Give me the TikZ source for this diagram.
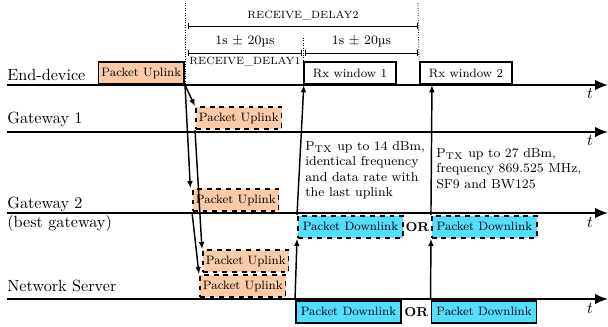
\documentclass[tikz,border=0pt]{standalone}
\usepackage{tikz}
\usetikzlibrary{arrows.meta, positioning}

\definecolor{uplinkorange}{RGB}{251,202,166}
\definecolor{downlinkcyan}{RGB}{85,221,255}
\newcommand{\pktfont}{\fontsize{7.5}{9}\selectfont}
\newcommand{\dlyfont}{\fontsize{6.5}{8}\selectfont}

\begin{document}
\begin{tikzpicture}[x=0.6173pt,y=-0.6173pt,>={Latex[length=4.5pt,width=3.5pt]},
	timeline/.style={line width=1.1pt,-{Latex[length=8pt,width=6.5pt]}},
	pkt/.style={draw,line width=1pt,font=\pktfont,inner sep=1pt,minimum height=13.6pt},
	uplink/.style={pkt,fill=uplinkorange,minimum width=53pt},
	downlink/.style={pkt,fill=downlinkcyan,minimum width=65pt},
	relayed/.style={dashed},
	rxwin/.style={pkt,fill=white,minimum width=57pt},
	lane/.style={anchor=base west,inner sep=0pt},
	delay/.style={line width=0.5pt,{Bar[width=4pt]}-{Bar[width=4pt]}},
	marker/.style={densely dotted,line width=0.5pt},
	orlabel/.style={font=\footnotesize\bfseries,inner sep=0.8pt},
	every edge/.append style={line width=0.9pt}]
	\useasboundingbox (0,0) rectangle (608,326);

	% time lines
	\draw[timeline] (7,85) -- (608,85);
	\draw[timeline] (7,132) -- (608,132);
	\draw[timeline] (7,213) -- (608,213);
	\draw[timeline] (7,299) -- (608,299);
	\node at (590,94) {$t$};
	\node at (590,141) {$t$};
	\node at (590,223) {$t$};
	\node at (590,309) {$t$};

	\node[lane] (ed) at (7,80) {End-device};
	\node[lane] (gw1) at (7,123) {Gateway 1};
	\node[lane] (gw2) at (7,208) {Gateway 2};
	\node[lane] (gw2b) at (7,227) {(best gateway)};
	\node[lane] (ns) at (7,291) {Network Server};

	% uplink
	\node[uplink,anchor=south east] (edUp) at (185,85) {Packet Uplink};
	\node[uplink,relayed,anchor=south west] (gw1Up) at (195,130) {Packet Uplink};
	\node[uplink,relayed,anchor=south west] (gw2Up) at (192,212) {Packet Uplink};
	\node[uplink,relayed,anchor=south west] (nsUpA) at (202,273) {Packet Uplink};
	\node[uplink,relayed,anchor=south west] (nsUpB) at (199,298) {Packet Uplink};

	\path (edUp.south east) edge[->] (gw1Up.north west)
		edge[->] ([xshift=-1pt]gw2Up.north west);
	\path (gw1Up.south west) edge[->] (nsUpA.north west);
	\path (gw2Up.south west) edge[->] (nsUpB.north west);

	% receive windows
	\node[rxwin,anchor=south west] (rx1) at (303,85) {Rx window 1};
	\node[rxwin,anchor=south west] (rx2) at (419,85) {Rx window 2};

	\draw[marker] (185,3) -- (185,85);
	\draw[marker] (303,38) -- (rx1.north west);
	\draw[marker] (418,3) -- (rx2.north west);

	\draw[delay] (188,26) -- (418,26) node[midway,above=0pt,font=\dlyfont] {RECEIVE\_DELAY2};
	\draw[delay] (188,53) -- (302,53) node[midway,above,font=\footnotesize] {1s $\pm$ 20µs}
		node[midway,below=-1pt,font=\dlyfont] {RECEIVE\_DELAY1};
	\draw[delay] (305,53) -- (418,53) node[midway,above,font=\footnotesize] {1s $\pm$ 20µs};

	% downlink
	\node[downlink,relayed,anchor=north west] (gwDnA) at (297,215) {Packet Downlink};
	\node[orlabel] (or1) [right=0pt of gwDnA] {OR};
	\node[downlink,relayed] (gwDnB) [right=0pt of or1] {Packet Downlink};
	\node[downlink,anchor=north west] (nsDnA) at (295,300) {Packet Downlink};
	\node[orlabel] (or2) [right=0.5pt of nsDnA] {OR};
	\node[downlink] (nsDnB) [right=0.5pt of or2] {Packet Downlink};

	\path (nsDnA.north west) edge[->] (gwDnA.south west);
	\path (nsDnB.north west) edge[->] (gwDnB.south west);
	\path (gwDnA.north west) edge[->] ([xshift=0.5pt]rx1.south west);
	\path (gwDnB.north west) edge[->] ([xshift=8pt]rx2.south west);

	\node[anchor=north west,align=left,font=\footnotesize,inner sep=0pt] (rx1info) at (305,141)
		{P$_{\mathrm{TX}}$ up to 14 dBm,\\identical frequency\\and data rate with\\the last uplink};
	\node[anchor=north west,align=left,font=\footnotesize,inner sep=0pt] (rx2info) at (436,148)
		{P$_{\mathrm{TX}}$ up to 27 dBm,\\frequency 869.525 MHz,\\SF9 and BW125};
\end{tikzpicture}
\end{document}
